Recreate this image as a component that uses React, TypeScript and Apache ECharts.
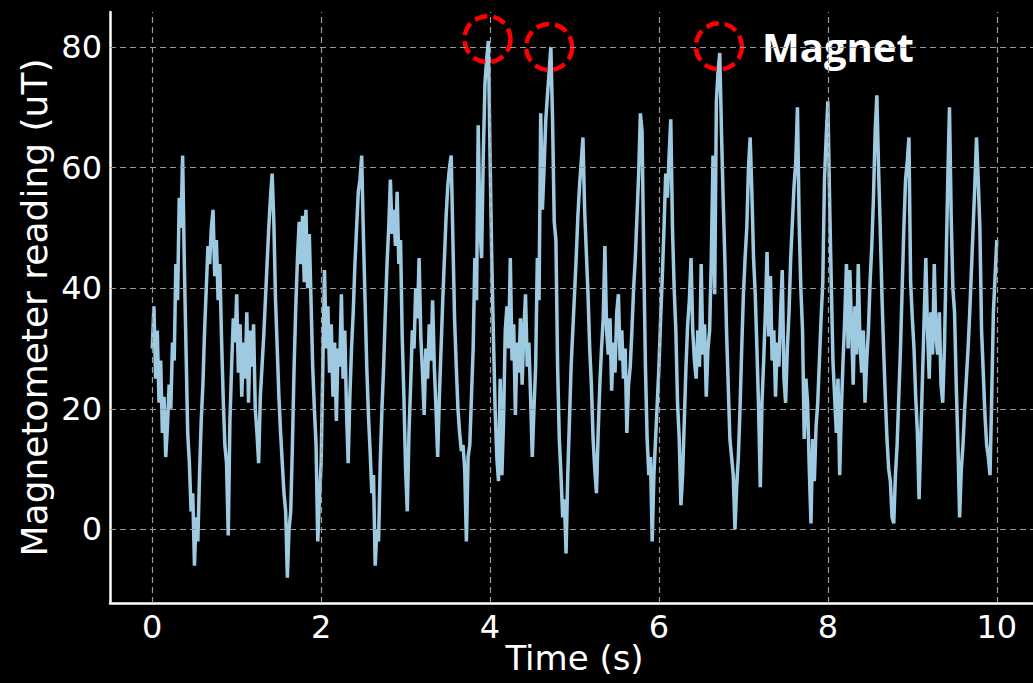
import React, { useEffect, useRef } from 'react';
import * as echarts from 'echarts';

// sampling step of the magnetometer trace (s)
const sampleStep = 0.02;

// readings (uT), one every 0.02 s from t = 0 to t = 10 s
const readings: number[] = [
  30, 37, 25, 33, 21, 28, 16, 22, 12, 17, 24,
  20, 31, 28, 44, 38, 55, 50, 62, 44, 30,
  16, 11, 3, 6, -6, 2, -2, 9, 18, 24,
  33, 40, 47, 44, 50, 53, 42, 48, 38, 44,
  32, 22, 14, 11, -1, 18, 27, 35, 31, 39,
  26, 34, 22, 31, 25, 36, 21, 33, 27, 34,
  20, 16, 11, 22, 27, 32, 38, 44, 50, 55,
  59, 51, 38, 30, 22, 16, 11, 6, 3, -8,
  0, 3, 14, 27, 37, 45, 51, 44, 52, 41,
  53, 40, 49, 38, 27, 20, 14, -2, 5, 11,
  27, 43, 30, 37, 26, 34, 22, 31, 18, 30,
  27, 39, 25, 33, 20, 11, 22, 30, 36, 44,
  50, 56, 58, 62, 49, 38, 27, 19, 13, 6,
  9, -6, 0, -2, 11, 20, 27, 36, 44, 50,
  58, 49, 53, 47, 56, 44, 48, 32, 22, 10,
  3, 16, 24, 33, 30, 40, 35, 45, 32, 26,
  19, 30, 25, 34, 28, 38, 27, 20, 12, 22,
  30, 38, 45, 52, 57, 60, 62, 48, 35, 27,
  20, 16, 13, 14, 10, -2, 12, 14, 22, 30,
  45, 38, 67, 50, 45, 62, 74, 78, 81, 62,
  45, 32, 20, 12, 8, 25, 9, 18, 33, 37,
  30, 45, 28, 34, 19, 31, 26, 35, 24, 33,
  39, 27, 31, 22, 12, 20, 27, 45, 38, 69,
  53, 60, 68, 72, 76, 80, 68, 51, 48, 27,
  15, 9, 2, 5, -4, 9, 18, 27, 33, 39,
  45, 52, 57, 61, 65, 53, 46, 39, 30, 24,
  15, 10, 6, 16, 24, 30, 35, 47, 33, 29,
  35, 23, 31, 26, 36, 39, 28, 33, 25, 30,
  16, 24, 27, 33, 40, 45, 52, 59, 69, 66,
  45, 27, 15, 9, 12, -2, 9, 15, 21, 27,
  35, 42, 50, 59, 55, 62, 68, 50, 40, 33,
  21, 15, 4, 9, 18, 27, 34, 38, 45, 33,
  28, 25, 33, 27, 44, 29, 34, 22, 30, 33,
  45, 62, 39, 71, 76, 79, 66, 55, 45, 33,
  24, 15, 12, 9, 0, 7, 12, 20, 30, 39,
  45, 50, 60, 65, 56, 45, 39, 30, 20, 7,
  21, 28, 36, 46, 32, 42, 28, 33, 22, 31,
  27, 36, 43, 25, 21, 30, 36, 45, 51, 57,
  61, 70, 51, 40, 33, 15, 25, 21, 10, 1,
  15, 8, 17, 21, 28, 35, 41, 58, 65, 71,
  55, 41, 28, 22, 16, 25, 9, 20, 28, 35,
  44, 30, 43, 34, 24, 37, 29, 44, 31, 26,
  33, 21, 28, 33, 41, 47, 55, 66, 72, 60,
  50, 39, 30, 22, 15, 10, 8, 2, 1, 9,
  14, 22, 30, 40, 50, 58, 61, 65, 41, 35,
  30, 22, 16, 5, 15, 25, 35, 45, 33, 25,
  36, 29, 44, 32, 29, 36, 24, 21, 30, 44,
  58, 70, 52, 40, 36, 24, 14, 2, 10, 14,
  20, 25, 30, 36, 43, 50, 57, 65, 58, 50,
  33, 26, 19, 14, 12, 9, 22, 36, 42, 48,
];

const xTicks = [0, 2, 4, 6, 8, 10];
const yTicks = [0, 20, 40, 60, 80];

// peaks caused by the magnet: [time (s), reading (uT)]
const magnetPeaks: number[][] = [
  [3.97, 81.3],
  [4.7, 80.0],
  [6.71, 80.1],
];
const magnetLabel = 'Magnet';

export default function App() {
  const ref = useRef<HTMLDivElement>(null);

  useEffect(() => {
    if (!ref.current) return;
    const chart = echarts.init(ref.current, null, { renderer: 'svg' });
    const seriesData = readings.map((v, i) => [Number((i * sampleStep).toFixed(2)), v]);
    const font = 'DejaVu Sans';

    chart.setOption({
      animation: false,
      backgroundColor: '#000000',
      grid: { left: 110, right: 1, top: 12, bottom: 80, containLabel: false, outerBoundsMode: 'none' },
      xAxis: {
        type: 'value',
        min: -0.5,
        max: 10.5,
        axisLine: { show: true, onZero: false, lineStyle: { color: '#ffffff', width: 2.5 } },
        axisTick: { show: false },
        splitLine: { show: false },
        axisLabel: {
          customValues: xTicks,
          color: '#ffffff',
          fontSize: 32,
          fontFamily: font,
          margin: 8,
        },
        name: 'Time (s)',
        nameLocation: 'middle',
        nameGap: 38,
        nameMoveOverlap: false,
        nameTextStyle: { color: '#ffffff', fontSize: 34, fontFamily: font },
      },
      yAxis: {
        type: 'value',
        min: -12.2,
        max: 85.8,
        axisLine: { show: true, onZero: false, lineStyle: { color: '#ffffff', width: 2.5 } },
        axisTick: { show: false },
        splitLine: { show: false },
        axisLabel: {
          customValues: yTicks,
          color: '#ffffff',
          fontSize: 32,
          fontFamily: font,
          margin: 8,
        },
        name: 'Magnetometer reading (uT)',
        nameLocation: 'middle',
        nameRotate: 90,
        nameGap: 58,
        nameMoveOverlap: false,
        nameTextStyle: { color: '#ffffff', fontSize: 36, fontFamily: font },
      },
      series: [
        {
          type: 'line',
          data: [],
          silent: true,
          z: 1,
          markLine: {
            silent: true,
            symbol: ['none', 'none'],
            label: { show: false },
            lineStyle: { color: '#9a9a9a', width: 1.2, type: [6, 4] },
            data: [
              ...xTicks.map((x) => ({ xAxis: x })),
              ...yTicks.map((y) => ({ yAxis: y })),
            ],
          },
        },
        {
          type: 'line',
          data: seriesData,
          showSymbol: false,
          silent: true,
          z: 2,
          lineStyle: { color: '#9ecae1', width: 3.5 },
        },
        {
          type: 'scatter',
          data: magnetPeaks,
          symbol: 'circle',
          symbolSize: 46,
          silent: true,
          z: 3,
          itemStyle: {
            color: 'transparent',
            opacity: 1,
            borderColor: '#ff0000',
            borderWidth: 4.5,
            borderType: [13, 6],
          },
        },
      ],
      graphic: [
        {
          type: 'text',
          left: 762,
          top: 26,
          style: {
            text: magnetLabel,
            fill: '#ffffff',
            font: 'bold 40px "Open Sans"',
          },
        },
      ],
    });

    return () => chart.dispose();
  }, []);

  return (
    <div
      ref={ref}
      style={{ position: 'fixed', left: 0, top: 0, width: 1040, height: 683, background: '#000000' }}
    />
  );
}
